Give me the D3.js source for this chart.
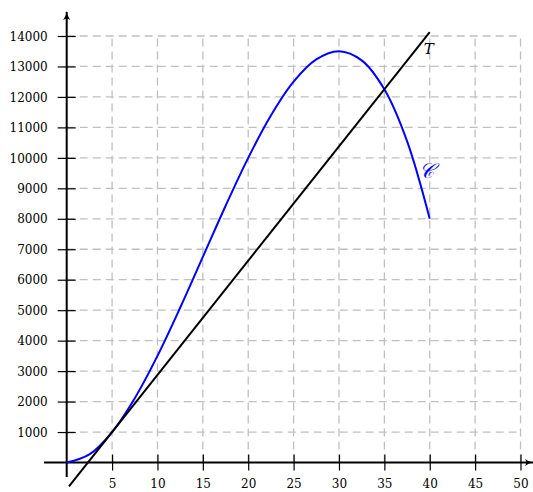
<!DOCTYPE html>
<html><head><meta charset="utf-8">
<script src="https://cdn.jsdelivr.net/npm/d3@7"></script>
<style>body{margin:0;background:#fff}svg{display:block}</style>
</head><body>
<svg id="c" width="533" height="492"></svg>
<script>
// Data
const curveX = [0, 2.5, 5, 7.5, 10, 12.5, 15, 17.5, 20, 22.5, 25, 27.5, 30, 32.5, 35, 37.5, 40];
const curveY = [0, 266, 1000, 2110, 3500, 5080, 6750, 8420, 10000, 11390, 12500, 13230, 13500, 13200, 12250, 10550, 8000];
const tangentX = [0.25, 40];
const tangentY = [-780, 14125];
const xTicks = [5, 10, 15, 20, 25, 30, 35, 40, 45, 50];
const yTicks = [1000, 2000, 3000, 4000, 5000, 6000, 7000, 8000, 9000, 10000, 11000, 12000, 13000, 14000];
const curveLabel = "𝒞";
const tangentLabel = "T";

const svg = d3.select("#c");
const x = d3.scaleLinear().domain([0, 50]).range([66.7, 520.5]);
const y = d3.scaleLinear().domain([0, 14000]).range([462.5, 36]);
const font = "'DejaVu Serif', serif";

// grid
const grid = svg.append("g").attr("stroke", "#c0c0c0").attr("stroke-width", 1.3)
  .attr("stroke-dasharray", "8,5").attr("fill", "none");
xTicks.forEach(v => grid.append("line").attr("x1", x(v)).attr("x2", x(v)).attr("y1", y(0)).attr("y2", y(14000)));
yTicks.forEach(v => grid.append("line").attr("x1", x(0)).attr("x2", x(50)).attr("y1", y(v)).attr("y2", y(v)));

// axes
svg.append("defs").append("marker").attr("id", "arr").attr("viewBox", "0 0 10 10")
  .attr("refX", 9).attr("refY", 5).attr("markerWidth", 9).attr("markerHeight", 9)
  .attr("markerUnits", "userSpaceOnUse").attr("orient", "auto")
  .append("path").attr("d", "M0,1 Q5,5 10,5 Q5,5 0,9 Q3,5 0,1 Z").attr("fill", "#000");
svg.append("line").attr("x1", 44).attr("x2", 533).attr("y1", y(0)).attr("y2", y(0))
  .attr("stroke", "#000").attr("stroke-width", 2.2).attr("marker-end", "url(#arr)");
svg.append("line").attr("x1", x(0)).attr("x2", x(0)).attr("y1", 477).attr("y2", 12)
  .attr("stroke", "#000").attr("stroke-width", 2).attr("marker-end", "url(#arr)");

const xAxis = d3.axisBottom(x).tickValues(xTicks).tickSize(0).tickPadding(0).tickFormat(d3.format("d"));
const gx = svg.append("g").attr("transform", `translate(0,${y(0)})`).call(xAxis);
gx.select(".domain").remove();
gx.selectAll(".tick line").attr("y1", -8).attr("y2", 8).attr("stroke", "#000").attr("stroke-width", 1.2);
gx.selectAll(".tick text").attr("y", 25).attr("dy", 0).attr("font-family", font).attr("font-size", 12).attr("fill", "#000");

const yAxis = d3.axisLeft(y).tickValues(yTicks).tickSize(0).tickPadding(0).tickFormat(d3.format("d"));
const gy = svg.append("g").attr("transform", `translate(${x(0)},0)`).call(yAxis);
gy.select(".domain").remove();
gy.selectAll(".tick line").attr("x1", -9).attr("x2", 9).attr("stroke", "#000").attr("stroke-width", 1.2);
gy.selectAll(".tick text").attr("x", -19).attr("dy", "0.35em").attr("font-family", font).attr("font-size", 12).attr("fill", "#000");

// curve
const pts = curveX.map((v, i) => [v, curveY[i]]);
svg.append("path").datum(pts)
  .attr("d", d3.line().x(d => x(d[0])).y(d => y(d[1])).curve(d3.curveCatmullRom.alpha(0.5)))
  .attr("fill", "none").attr("stroke", "#0000ff").attr("stroke-width", 2);

// tangent
const tp = tangentX.map((v, i) => [v, tangentY[i]]);
svg.append("path").datum(tp)
  .attr("d", d3.line().x(d => x(d[0])).y(d => y(d[1])))
  .attr("fill", "none").attr("stroke", "#000").attr("stroke-width", 2);

svg.append("text").attr("x", x(40) - 6).attr("y", y(13400)).attr("font-family", font)
  .attr("font-style", "italic").attr("font-size", 15).attr("fill", "#000").text(tangentLabel);
svg.append("text").attr("x", x(40) - 11).attr("y", y(9000) - 10).attr("font-family", font)
  .attr("font-style", "italic").attr("font-size", 21).attr("fill", "#0000ff").text(curveLabel);
</script>
</body></html>
